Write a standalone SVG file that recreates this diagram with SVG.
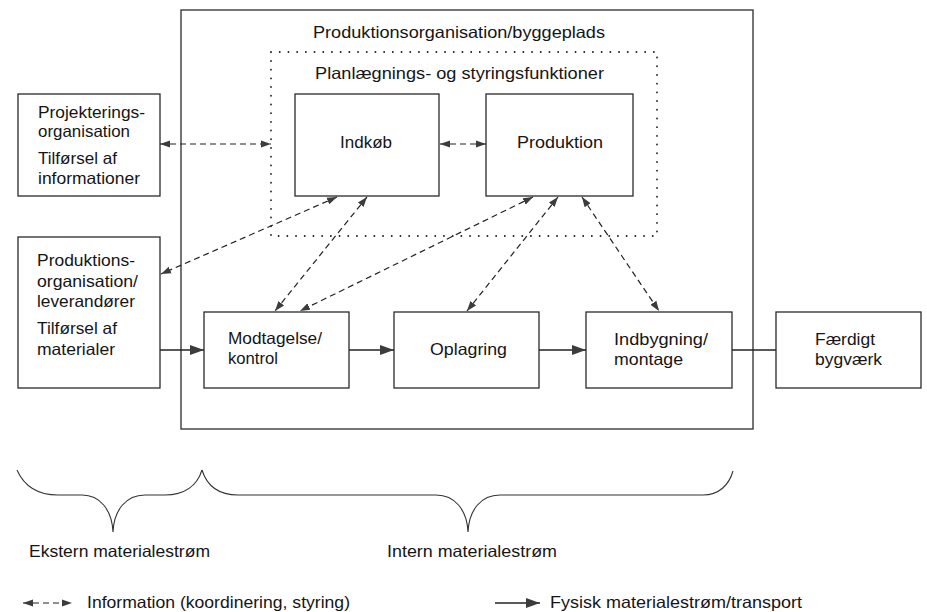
<svg xmlns="http://www.w3.org/2000/svg" width="927" height="612" viewBox="0 0 927 612">
<style>
.bx{fill:none;stroke:#2a2a2a;stroke-width:1.3}
.ob{fill:none;stroke:#3a3a3a;stroke-width:1.4}
.dot{fill:none;stroke:#222;stroke-width:1.8;stroke-dasharray:0.1 8.6;stroke-linecap:round}
.info{fill:none;stroke:#222;stroke-width:1.2;stroke-dasharray:6 4;marker-start:url(#ai);marker-end:url(#ai)}
.mat{fill:none;stroke:#222;stroke-width:1.6;marker-end:url(#am)}
.pl{fill:none;stroke:#222;stroke-width:1.3}
.br{fill:none;stroke:#333;stroke-width:1.1}
text{font-family:"Liberation Sans",Arial,sans-serif;font-size:16.5px;fill:#151515}
</style>
<defs>
<marker id="ai" viewBox="0 -5 11 10" refX="10" refY="0" markerWidth="11" markerHeight="10" markerUnits="userSpaceOnUse" orient="auto-start-reverse"><path d="M0,-3.6 L10,0 L0,3.6 z" fill="#3c3c3c"/></marker>
<marker id="am" viewBox="0 -6 15 12" refX="14" refY="0" markerWidth="15" markerHeight="12" markerUnits="userSpaceOnUse" orient="auto"><path d="M0,-5 L14,0 L0,5 z" fill="#3c3c3c"/></marker>
</defs>

<g id="produktionsorganisation-byggeplads">
<rect class="ob" x="181" y="10" width="572" height="419"/>
<text x="313" y="38" textLength="292" lengthAdjust="spacingAndGlyphs">Produktionsorganisation/byggeplads</text>
</g>
<g id="planlaegning">
<rect class="dot" x="271" y="52" width="386" height="184"/>
<text x="315" y="79" textLength="289" lengthAdjust="spacingAndGlyphs">Planlægnings- og styringsfunktioner</text>
</g>
<g id="indkob">
<rect class="bx" x="295" y="94" width="144" height="102"/>
<text x="340" y="148" textLength="52" lengthAdjust="spacingAndGlyphs">Indkøb</text>
</g>
<g id="produktion">
<rect class="bx" x="486" y="94" width="147" height="102"/>
<text x="517" y="148" textLength="86" lengthAdjust="spacingAndGlyphs">Produktion</text>
</g>
<g id="projektering">
<rect class="bx" x="18" y="94" width="142" height="102"/>
<text x="38" y="118" textLength="107" lengthAdjust="spacingAndGlyphs">Projekterings-</text>
<text x="38" y="137" textLength="92" lengthAdjust="spacingAndGlyphs">organisation</text>
<text x="38" y="164" textLength="79" lengthAdjust="spacingAndGlyphs">Tilførsel af</text>
<text x="38" y="184" textLength="102" lengthAdjust="spacingAndGlyphs">informationer</text>
</g>
<g id="leverandorer">
<rect class="bx" x="18" y="237" width="142" height="151"/>
<text x="37" y="266" textLength="98" lengthAdjust="spacingAndGlyphs">Produktions-</text>
<text x="37" y="287" textLength="101" lengthAdjust="spacingAndGlyphs">organisation/</text>
<text x="37" y="307" textLength="98" lengthAdjust="spacingAndGlyphs">leverandører</text>
<text x="37" y="334" textLength="80" lengthAdjust="spacingAndGlyphs">Tilførsel af</text>
<text x="37" y="355" textLength="78" lengthAdjust="spacingAndGlyphs">materialer</text>
</g>
<g id="modtagelse">
<rect class="bx" x="204" y="312" width="145" height="76"/>
<text x="228" y="344" textLength="94" lengthAdjust="spacingAndGlyphs">Modtagelse/</text>
<text x="228" y="364" textLength="50" lengthAdjust="spacingAndGlyphs">kontrol</text>
</g>
<g id="oplagring">
<rect class="bx" x="394" y="312" width="145" height="76"/>
<text x="430" y="355" textLength="77" lengthAdjust="spacingAndGlyphs">Oplagring</text>
</g>
<g id="indbygning">
<rect class="bx" x="586" y="312" width="146" height="76"/>
<text x="614" y="345" textLength="94" lengthAdjust="spacingAndGlyphs">Indbygning/</text>
<text x="614" y="365" textLength="69" lengthAdjust="spacingAndGlyphs">montage</text>
</g>
<g id="faerdigt">
<rect class="bx" x="776" y="312" width="145" height="76"/>
<text x="815" y="345" textLength="60" lengthAdjust="spacingAndGlyphs">Færdigt</text>
<text x="815" y="365" textLength="67" lengthAdjust="spacingAndGlyphs">bygværk</text>
</g>

<g id="connectors">
<path class="info" d="M160,144 L271,144"/>
<path class="info" d="M440,144 L486,144"/>
<path class="info" d="M337,197 L161,274"/>
<path class="info" d="M367,197 L275,311"/>
<path class="info" d="M533,197 L300,311"/>
<path class="info" d="M558,197 L467,311"/>
<path class="info" d="M582,197 L659,311"/>
<path class="mat" d="M160,350 L204,350"/>
<path class="mat" d="M349,350 L394,350"/>
<path class="mat" d="M539,350 L586,350"/>
<path class="pl" d="M732,350 L776,350"/>
</g>

<g id="braces">
<path class="br" d="M17,470 C25,488 40,495 58,495 L82,495 C100,495 112,510 113,532 C114,510 126,495 145,495 L165,495 C184,495 197,486 202,470"/>
<path class="br" d="M202,470 C207,486 219,495 238,495 L436,495 C455,495 467,510 468,532 C469,510 481,495 500,495 L703,495 C719,495 729,485 733,471"/>
<text x="29" y="557" textLength="181" lengthAdjust="spacingAndGlyphs">Ekstern materialestrøm</text>
<text x="387" y="557" textLength="170" lengthAdjust="spacingAndGlyphs">Intern materialestrøm</text>
</g>

<g id="legend">
<path class="info" d="M23,603 L72,603"/>
<text x="87" y="608" textLength="263" lengthAdjust="spacingAndGlyphs">Information (koordinering, styring)</text>
<path class="mat" d="M495,603 L540,603"/>
<text x="550" y="608" textLength="252" lengthAdjust="spacingAndGlyphs">Fysisk materialestrøm/transport</text>
</g>
</svg>
